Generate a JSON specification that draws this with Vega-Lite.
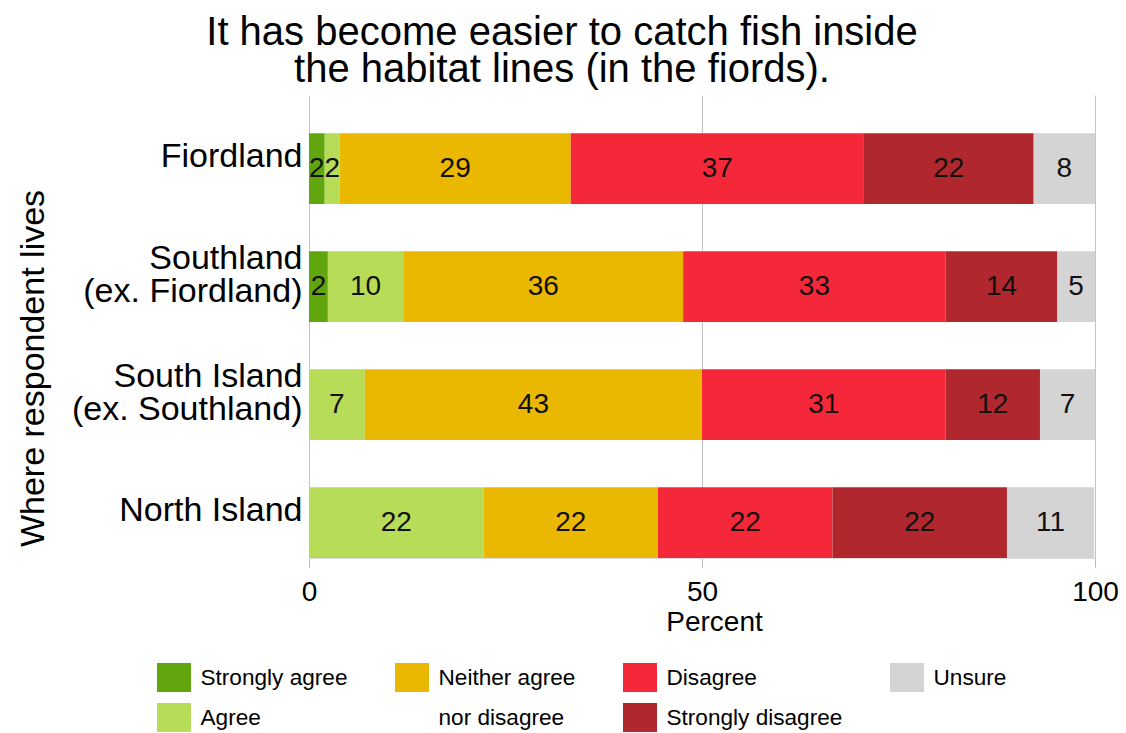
{
  "$schema": "https://vega.github.io/schema/vega-lite/v6.json",
  "autosize": {"type": "none"},
  "width": 786,
  "height": 463,
  "padding": {"left": 309, "top": 95, "right": 31, "bottom": 175},
  "background": "white",
  "config": {
    "view": {"stroke": null},
    "font": "Liberation Sans"
  },
  "title": {
    "text": ["It has become easier to catch fish inside", "the habitat lines (in the fiords)."],
    "fontSize": 40,
    "fontWeight": "normal",
    "font": "Liberation Sans",
    "color": "#000000",
    "lineHeight": 37,
    "anchor": "middle",
    "frame": "group",
    "baseline": "bottom",
    "offset": -35,
    "dx": -140
  },
  "data": {
    "values": [
      {"region": "Fiordland", "response": "Strongly agree", "pct": 2.0},
      {"region": "Fiordland", "response": "Agree", "pct": 1.9},
      {"region": "Fiordland", "response": "Neither agree nor disagree", "pct": 29.4},
      {"region": "Fiordland", "response": "Disagree", "pct": 37.3},
      {"region": "Fiordland", "response": "Strongly disagree", "pct": 21.6},
      {"region": "Fiordland", "response": "Unsure", "pct": 7.8},
      {"region": "Southland (ex. Fiordland)", "response": "Strongly agree", "pct": 2.4},
      {"region": "Southland (ex. Fiordland)", "response": "Agree", "pct": 9.6},
      {"region": "Southland (ex. Fiordland)", "response": "Neither agree nor disagree", "pct": 35.6},
      {"region": "Southland (ex. Fiordland)", "response": "Disagree", "pct": 33.4},
      {"region": "Southland (ex. Fiordland)", "response": "Strongly disagree", "pct": 14.2},
      {"region": "Southland (ex. Fiordland)", "response": "Unsure", "pct": 4.8},
      {"region": "South Island (ex. Southland)", "response": "Agree", "pct": 7.1},
      {"region": "South Island (ex. Southland)", "response": "Neither agree nor disagree", "pct": 42.9},
      {"region": "South Island (ex. Southland)", "response": "Disagree", "pct": 31.0},
      {"region": "South Island (ex. Southland)", "response": "Strongly disagree", "pct": 12.0},
      {"region": "South Island (ex. Southland)", "response": "Unsure", "pct": 7.0},
      {"region": "North Island", "response": "Agree", "pct": 22.2},
      {"region": "North Island", "response": "Neither agree nor disagree", "pct": 22.2},
      {"region": "North Island", "response": "Disagree", "pct": 22.2},
      {"region": "North Island", "response": "Strongly disagree", "pct": 22.2},
      {"region": "North Island", "response": "Unsure", "pct": 11.1}
    ]
  },
  "transform": [
    {"calculate": "indexof(['Strongly agree','Agree','Neither agree nor disagree','Disagree','Strongly disagree','Unsure'], datum.response)", "as": "ord"},
    {"stack": "pct", "groupby": ["region"], "sort": [{"field": "ord", "order": "ascending"}], "as": ["x0", "x1"]},
    {"calculate": "(datum.x0 + datum.x1) / 2", "as": "mid"}
  ],
  "encoding": {
    "y": {
      "field": "region",
      "type": "nominal",
      "sort": ["Fiordland", "Southland (ex. Fiordland)", "South Island (ex. Southland)", "North Island"],
      "scale": {"paddingInner": 0.4, "paddingOuter": 0.162, "align": 1},
      "axis": {
        "title": "Where respondent lives",
        "titleFontSize": 34,
        "titleFontWeight": "normal",
        "titleColor": "#000000",
        "titleFont": "Liberation Sans",
        "titleAngle": -90,
        "titleX": -276,
        "titleY": 273,
        "titleAlign": "center",
        "titleBaseline": "middle",
        "labelFontSize": 34,
        "labelFont": "Liberation Sans",
        "labelColor": "#000000",
        "labelLineHeight": 33,
        "labelBaseline": "middle",
        "labelOffset": {"expr": "indexof(datum.value, '(') > 0 ? -28 : -12"},
        "labelPadding": 7,
        "labelLimit": 400,
        "labelExpr": "indexof(datum.value, '(') > 0 ? [substring(datum.value, 0, indexof(datum.value, '(') - 1), substring(datum.value, indexof(datum.value, '('))] : datum.value",
        "ticks": false,
        "domain": false,
        "grid": false
      }
    }
  },
  "layer": [
    {
      "mark": {"type": "bar"},
      "encoding": {
        "x": {
          "field": "x0",
          "type": "quantitative",
          "scale": {"domain": [0, 100], "nice": false},
          "axis": {
            "values": [0, 50, 100],
            "title": "Percent",
            "titleFontSize": 28,
            "titleFontWeight": "normal",
            "titleColor": "#000000",
            "titleFont": "Liberation Sans",
            "titlePadding": 2,
            "titleX": 405,
            "labelFontSize": 28,
            "labelFont": "Liberation Sans",
            "labelColor": "#000000",
            "labelPadding": 11,
            "labelFlush": false,
            "tickSize": 9,
            "tickColor": "#b8b8b8",
            "domainColor": "#dcdcdc",
            "grid": true,
            "gridColor": "#c4c4c4",
            "gridWidth": 1
          }
        },
        "x2": {"field": "x1"},
        "color": {
          "field": "response",
          "type": "nominal",
          "scale": {
            "domain": ["Strongly agree", "Neither agree nor disagree", "Disagree", "Unsure", "Agree", "nor disagree", "Strongly disagree"],
            "range": ["#62a60f", "#eab800", "#f42838", "#d4d4d5", "#b6dc58", "#ffffff", "#b0282e"]
          },
          "legend": {
            "orient": "none",
            "legendX": -149.5,
            "legendY": 568,
            "direction": "horizontal",
            "columns": 4,
            "title": null,
            "padding": 0,
            "symbolType": "M-1.172,-1H1.172V1H-1.172Z",
            "symbolSize": 841,
            "symbolStrokeWidth": 0,
            "symbolOpacity": 1,
            "labelFontSize": 22.6,
            "labelFont": "Liberation Sans",
            "labelColor": "#000000",
            "labelLimit": 300,
            "labelOffset": 12,
            "columnPadding": 47,
            "rowPadding": 11,
            "labelExpr": "datum.label == 'Neither agree nor disagree' ? 'Neither agree' : datum.label"
          }
        }
      }
    },
    {
      "mark": {"type": "text", "fontSize": 28, "font": "Liberation Sans", "color": "#111111", "baseline": "middle", "align": "center"},
      "encoding": {
        "x": {"field": "mid", "type": "quantitative"},
        "text": {"field": "pct", "type": "quantitative", "format": ".0f"}
      }
    }
  ]
}
